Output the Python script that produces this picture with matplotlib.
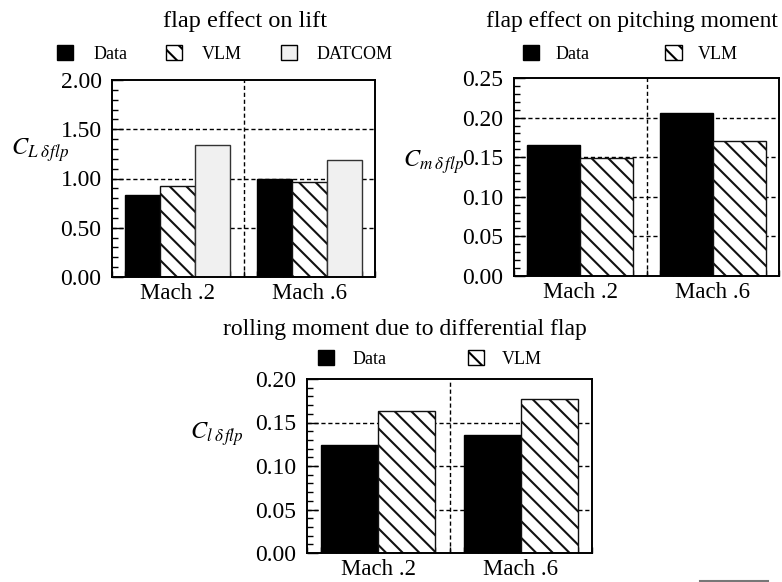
import numpy as np
import matplotlib
matplotlib.use('Agg')
import matplotlib.pyplot as plt
from matplotlib.ticker import AutoMinorLocator, MultipleLocator, FormatStrFormatter
from matplotlib.patches import Patch
from matplotlib.lines import Line2D

plt.rcParams['font.family'] = ['Liberation Serif', 'DejaVu Serif']
plt.rcParams['mathtext.fontset'] = 'stix'
plt.rcParams['hatch.linewidth'] = 1.5

machs = ['Mach .2', 'Mach .6']

# flap effect on lift
lift_data = [0.83, 1.00]
lift_vlm = [0.92, 0.96]
lift_datcom = [1.34, 1.19]

# flap effect on pitching moment
pitch_data = [0.166, 0.206]
pitch_vlm = [0.149, 0.171]

# rolling moment due to differential flap
roll_data = [0.124, 0.136]
roll_vlm = [0.163, 0.177]

W, H = 782, 582
fig = plt.figure(figsize=(W / 100, H / 100), dpi=100)


def box(left, top, right, bottom):
    # pixel box -> figure fraction
    return [left / W, 1 - bottom / H, (right - left) / W, (bottom - top) / H]


def style_axes(ax, ymax, ystep):
    ax.set_xlim(-0.5, 1.5)
    ax.set_ylim(0, ymax)
    yt = np.round(np.arange(0, ymax + ystep / 2, ystep), 4)
    ax.set_yticks(yt)
    ax.yaxis.set_major_formatter(FormatStrFormatter('%.2f'))
    ax.yaxis.set_minor_locator(AutoMinorLocator(5))
    ax.set_xticks([0, 1])
    ax.set_xticklabels(machs)
    ax.xaxis.set_minor_locator(MultipleLocator(0.1))
    ax.tick_params(axis='y', which='major', direction='in', length=8, width=1,
                   labelsize=17, pad=7.5)
    ax.tick_params(axis='y', which='minor', direction='in', length=4, width=1)
    ax.tick_params(axis='x', which='both', direction='in', length=4, width=1,
                   labelsize=16.5, pad=4)
    for s in ax.spines.values():
        s.set_linewidth(1.4)
    for y in yt[1:-1]:
        ax.axhline(y, color='k', lw=1, ls=(0, (3, 2)), zorder=0)
    ax.axvline(0.5, color='k', lw=1, ls=(0, (3, 2)), zorder=0)


def bars(ax, series, styles):
    n = len(series)
    w = 0.8 / n
    x = np.arange(len(machs))
    for i, (vals, st) in enumerate(zip(series, styles)):
        ax.bar(x - 0.4 + w * (i + 0.5), vals, w, zorder=2, lw=1, **st)


data_st = dict(color='black', edgecolor='black')
vlm_st = dict(facecolor='white', edgecolor='#111111', hatch='\\\\')
datcom_st = dict(facecolor='#f0f0f0', edgecolor='#333333')

leg_data = Patch(facecolor='black', edgecolor='black', label='Data')
leg_vlm = Patch(facecolor='white', edgecolor='black', hatch='\\\\', label='VLM')
leg_datcom = Patch(facecolor='#f0f0f0', edgecolor='black', label='DATCOM')

# lift
ax1 = fig.add_axes(box(112, 80, 375, 277))
bars(ax1, [lift_data, lift_vlm, lift_datcom], [data_st, vlm_st, datcom_st])
style_axes(ax1, 2.0, 0.5)
fig.text(245 / W, 1 - 27 / H, 'flap effect on lift', ha='center', va='baseline', fontsize=17.5)
fig.text(11 / W, 1 - 155 / H, r'$C_{L\;\delta\,flp}$', ha='left', va='baseline', fontsize=17.5)
fig.legend(handles=[leg_data, leg_vlm, leg_datcom], loc='center left',
           bbox_to_anchor=(57 / W, 1 - 54 / H), ncol=3, frameon=False, fontsize=13,
           borderpad=0, borderaxespad=0, handlelength=0.9, handleheight=0.9,
           handletextpad=1.1, columnspacing=2.15)

# pitching moment
ax2 = fig.add_axes(box(514, 78, 779, 276))
bars(ax2, [pitch_data, pitch_vlm], [data_st, vlm_st])
style_axes(ax2, 0.25, 0.05)
fig.text(632 / W, 1 - 27 / H, 'flap effect on pitching moment', ha='center', va='baseline', fontsize=17)
fig.text(403 / W, 1 - 167 / H, r'$C_{m\;\delta\,flp}$', ha='left', va='baseline', fontsize=17.5)
fig.legend(handles=[leg_data, leg_vlm], loc='center left',
           bbox_to_anchor=(523 / W, 1 - 54 / H), ncol=2, frameon=False, fontsize=13,
           borderpad=0, borderaxespad=0, handlelength=0.9, handleheight=0.9,
           handletextpad=0.9, columnspacing=4.2)

# rolling moment
ax3 = fig.add_axes(box(307, 379, 592, 553))
bars(ax3, [roll_data, roll_vlm], [data_st, vlm_st])
style_axes(ax3, 0.20, 0.05)
fig.text(405 / W, 1 - 335 / H, 'rolling moment due to differential flap', ha='center', va='baseline', fontsize=17)
fig.text(190 / W, 1 - 439 / H, r'$C_{l\;\delta\,flp}$', ha='left', va='baseline', fontsize=17.5)
fig.legend(handles=[leg_data, leg_vlm], loc='center left',
           bbox_to_anchor=(318 / W, 1 - 359 / H), ncol=2, frameon=False, fontsize=13,
           borderpad=0, borderaxespad=0, handlelength=0.9, handleheight=0.9,
           handletextpad=1.0, columnspacing=4.5)

# short rule at the foot of the page
fig.add_artist(Line2D([700 / W, 768 / W], [1 - 580.5 / H] * 2, color='#777777', lw=1.5))

fig.savefig('out.png', dpi=100)
